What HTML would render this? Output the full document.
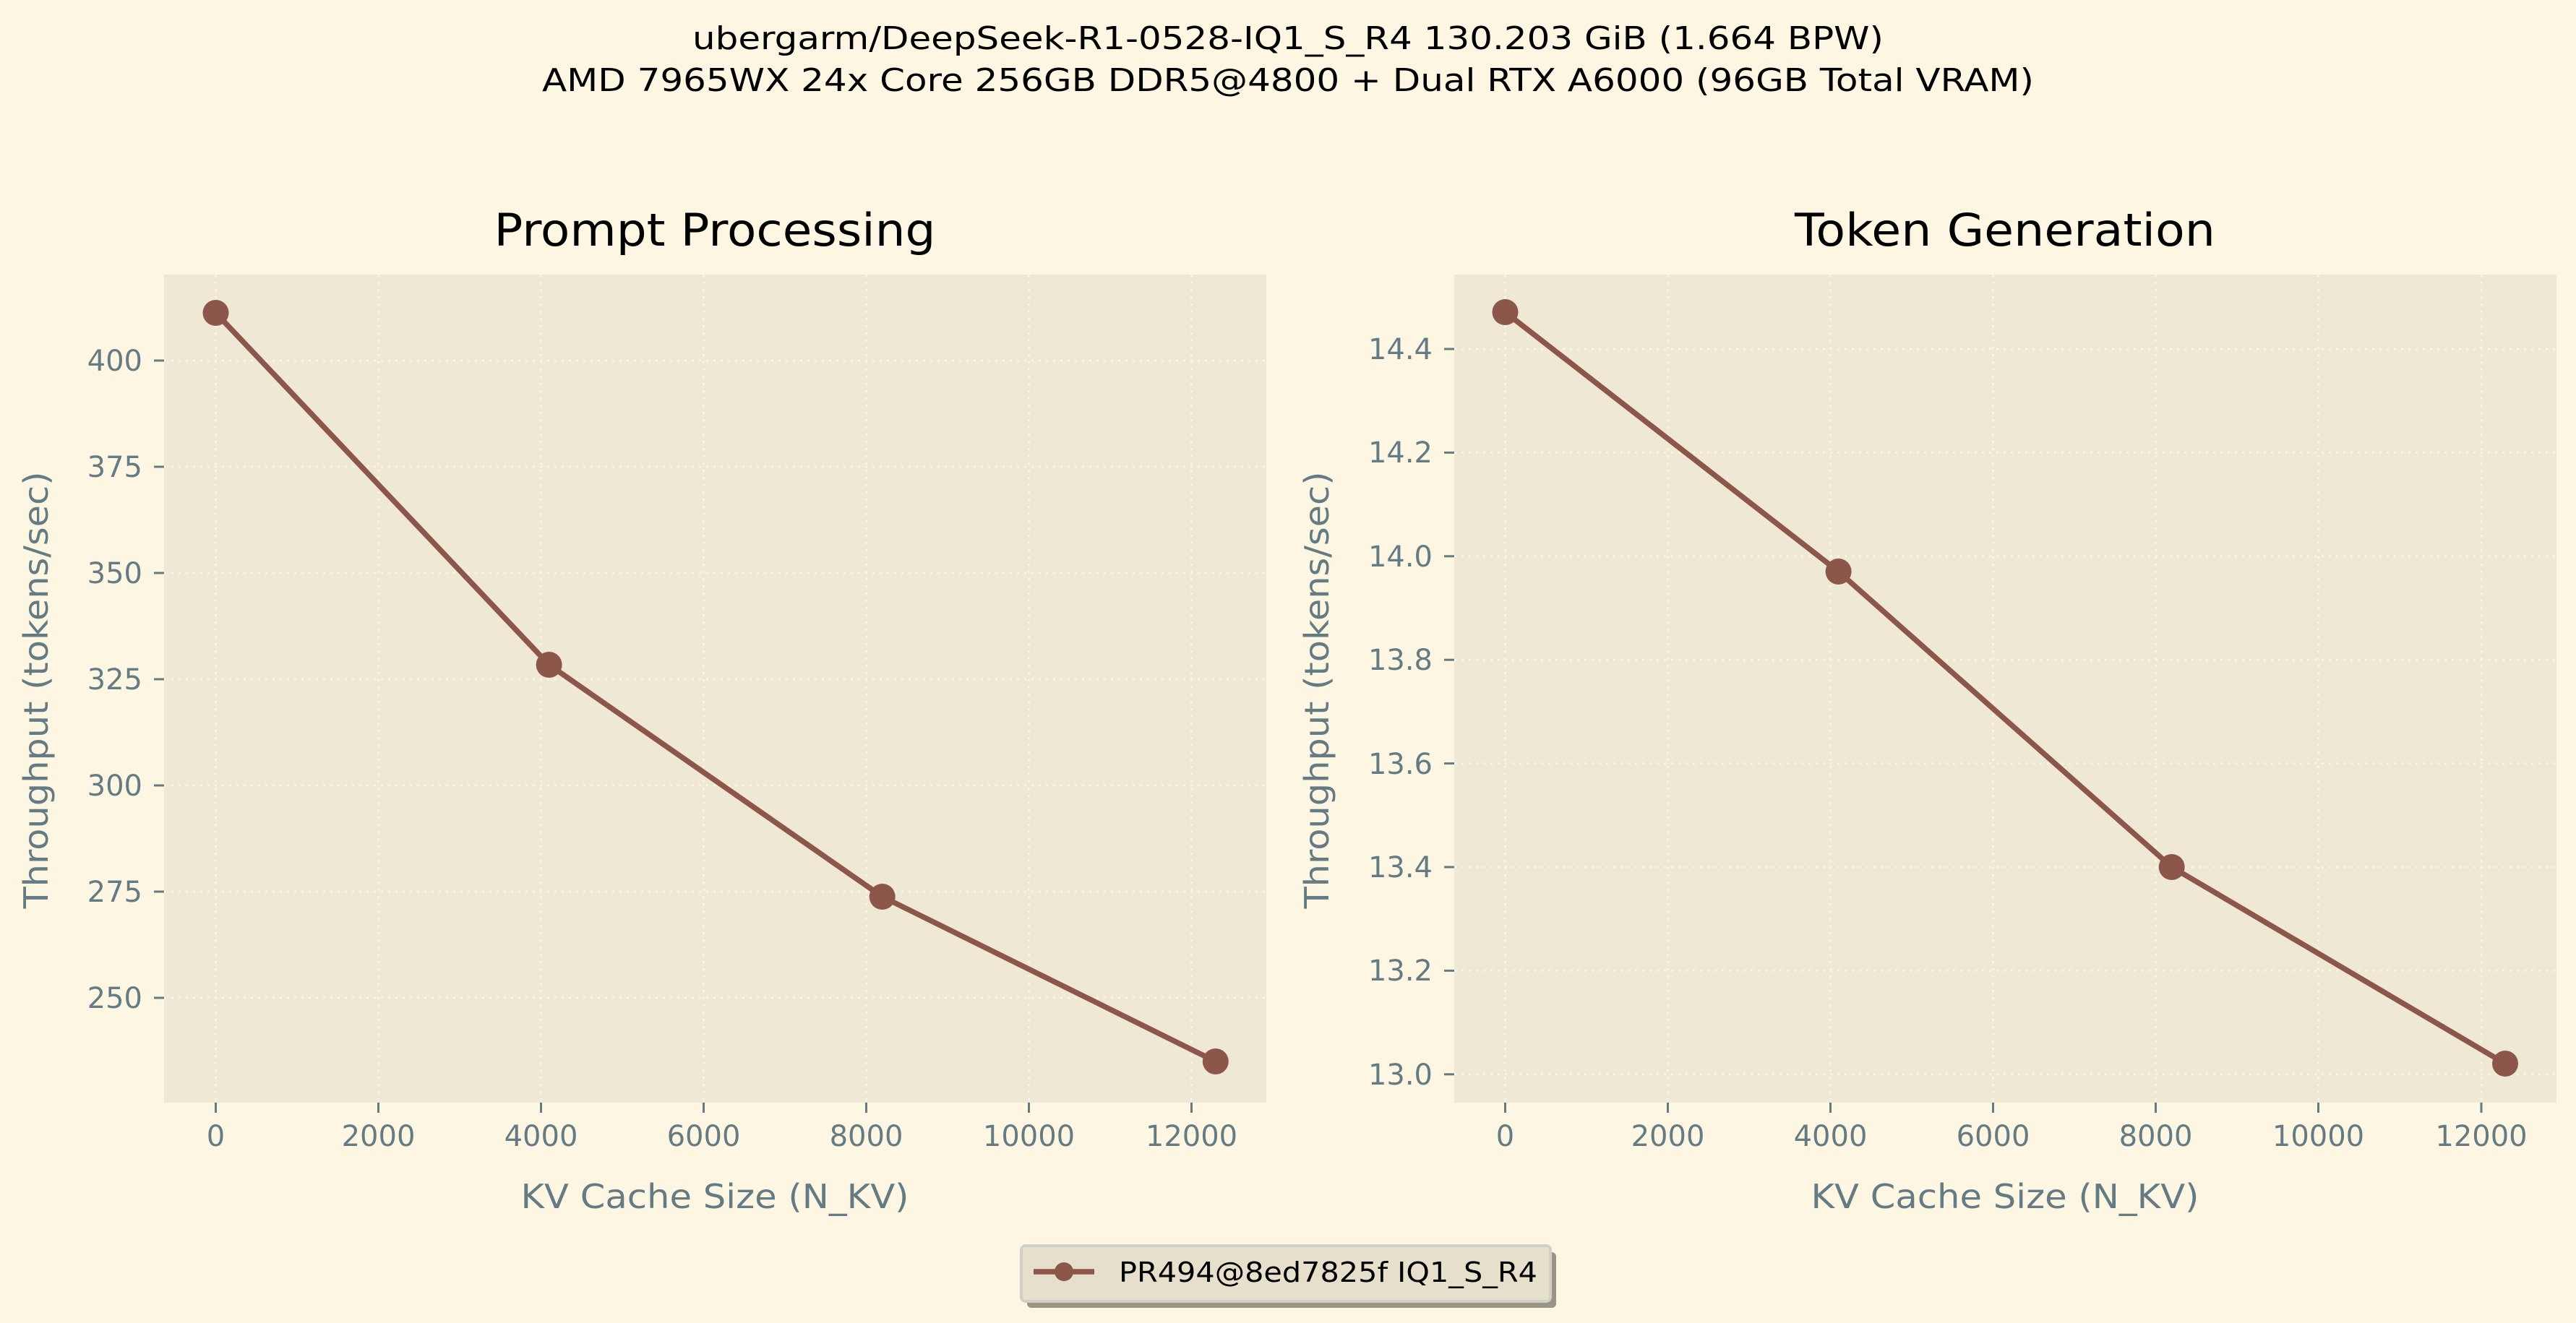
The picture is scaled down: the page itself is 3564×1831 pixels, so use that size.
<!DOCTYPE html>
<html><head><meta charset="utf-8"><style>
html,body{margin:0;padding:0;background:#fdf6e3;}
svg{display:block;}
text{font-family:"DejaVu Sans","Liberation Sans",sans-serif;}
</style></head><body>
<svg width="3564" height="1831" viewBox="0 0 3564 1831" xmlns="http://www.w3.org/2000/svg">
<rect width="3564" height="1831" fill="#fdf6e3"/>
<text x="1782" y="68" font-size="44" text-anchor="middle" fill="#000" textLength="1648" lengthAdjust="spacingAndGlyphs">ubergarm/DeepSeek-R1-0528-IQ1_S_R4 130.203 GiB (1.664 BPW)</text>
<text x="1782" y="126" font-size="44" text-anchor="middle" fill="#000" textLength="2064" lengthAdjust="spacingAndGlyphs">AMD 7965WX 24x Core 256GB DDR5@4800 + Dual RTX A6000 (96GB Total VRAM)</text>

<!-- LEFT -->
<text x="989" y="340" font-size="62" text-anchor="middle" fill="#000" textLength="611" lengthAdjust="spacingAndGlyphs">Prompt Processing</text>
<rect x="227" y="380" width="1525" height="1146" fill="#eee8d5"/>
<g stroke="#fdf6e3" stroke-width="3" stroke-dasharray="3,7" opacity="0.9">
<line x1="298.5" y1="380" x2="298.5" y2="1526"/><line x1="523.5" y1="380" x2="523.5" y2="1526"/><line x1="748.5" y1="380" x2="748.5" y2="1526"/><line x1="973.5" y1="380" x2="973.5" y2="1526"/><line x1="1198.5" y1="380" x2="1198.5" y2="1526"/><line x1="1423.5" y1="380" x2="1423.5" y2="1526"/><line x1="1648.5" y1="380" x2="1648.5" y2="1526"/>
<line x1="227" y1="499" x2="1752" y2="499"/><line x1="227" y1="646" x2="1752" y2="646"/><line x1="227" y1="793" x2="1752" y2="793"/><line x1="227" y1="940" x2="1752" y2="940"/><line x1="227" y1="1087" x2="1752" y2="1087"/><line x1="227" y1="1234" x2="1752" y2="1234"/><line x1="227" y1="1381" x2="1752" y2="1381"/>
</g>
<g stroke="#657b83" stroke-width="3">
<line x1="298.5" y1="1526" x2="298.5" y2="1540"/><line x1="523.5" y1="1526" x2="523.5" y2="1540"/><line x1="748.5" y1="1526" x2="748.5" y2="1540"/><line x1="973.5" y1="1526" x2="973.5" y2="1540"/><line x1="1198.5" y1="1526" x2="1198.5" y2="1540"/><line x1="1423.5" y1="1526" x2="1423.5" y2="1540"/><line x1="1648.5" y1="1526" x2="1648.5" y2="1540"/>
<line x1="213" y1="499" x2="227" y2="499"/><line x1="213" y1="646" x2="227" y2="646"/><line x1="213" y1="793" x2="227" y2="793"/><line x1="213" y1="940" x2="227" y2="940"/><line x1="213" y1="1087" x2="227" y2="1087"/><line x1="213" y1="1234" x2="227" y2="1234"/><line x1="213" y1="1381" x2="227" y2="1381"/>
</g>
<g font-size="40" fill="#657b83" text-anchor="middle">
<text x="298.5" y="1586">0</text><text x="523.5" y="1586">2000</text><text x="748.5" y="1586">4000</text><text x="973.5" y="1586">6000</text><text x="1198.5" y="1586">8000</text><text x="1423.5" y="1586">10000</text><text x="1648.5" y="1586">12000</text>
</g>
<g font-size="40" fill="#657b83" text-anchor="end">
<text x="197" y="513">400</text><text x="197" y="660">375</text><text x="197" y="807">350</text><text x="197" y="954">325</text><text x="197" y="1101">300</text><text x="197" y="1248">275</text><text x="197" y="1395">250</text>
</g>
<text x="989" y="1672" font-size="46" fill="#657b83" text-anchor="middle" textLength="537" lengthAdjust="spacingAndGlyphs">KV Cache Size (N_KV)</text>
<text transform="translate(66,955) rotate(-90)" font-size="46" fill="#657b83" text-anchor="middle" textLength="605" lengthAdjust="spacingAndGlyphs">Throughput (tokens/sec)</text>
<polyline points="298.5,433 759.6,920 1220.7,1241 1681.8,1469" fill="none" stroke="#8c564b" stroke-width="7.5" stroke-linejoin="round"/>
<g fill="#8c564b"><circle cx="298.5" cy="433" r="18"/><circle cx="759.6" cy="920" r="18"/><circle cx="1220.7" cy="1241" r="18"/><circle cx="1681.8" cy="1469" r="18"/></g>

<!-- RIGHT -->
<text x="2774" y="340" font-size="62" text-anchor="middle" fill="#000" textLength="582" lengthAdjust="spacingAndGlyphs">Token Generation</text>
<rect x="2012" y="380" width="1525" height="1146" fill="#eee8d5"/>
<g stroke="#fdf6e3" stroke-width="3" stroke-dasharray="3,7" opacity="0.9">
<line x1="2082.5" y1="380" x2="2082.5" y2="1526"/><line x1="2307.5" y1="380" x2="2307.5" y2="1526"/><line x1="2532.5" y1="380" x2="2532.5" y2="1526"/><line x1="2757.5" y1="380" x2="2757.5" y2="1526"/><line x1="2982.5" y1="380" x2="2982.5" y2="1526"/><line x1="3207.5" y1="380" x2="3207.5" y2="1526"/><line x1="3433" y1="380" x2="3433" y2="1526"/>
<line x1="2012" y1="483" x2="3537" y2="483"/><line x1="2012" y1="626.4" x2="3537" y2="626.4"/><line x1="2012" y1="769.8" x2="3537" y2="769.8"/><line x1="2012" y1="913.2" x2="3537" y2="913.2"/><line x1="2012" y1="1056.6" x2="3537" y2="1056.6"/><line x1="2012" y1="1200" x2="3537" y2="1200"/><line x1="2012" y1="1343.4" x2="3537" y2="1343.4"/><line x1="2012" y1="1486.8" x2="3537" y2="1486.8"/>
</g>
<g stroke="#657b83" stroke-width="3">
<line x1="2082.5" y1="1526" x2="2082.5" y2="1540"/><line x1="2307.5" y1="1526" x2="2307.5" y2="1540"/><line x1="2532.5" y1="1526" x2="2532.5" y2="1540"/><line x1="2757.5" y1="1526" x2="2757.5" y2="1540"/><line x1="2982.5" y1="1526" x2="2982.5" y2="1540"/><line x1="3207.5" y1="1526" x2="3207.5" y2="1540"/><line x1="3433" y1="1526" x2="3433" y2="1540"/>
<line x1="1998" y1="483" x2="2012" y2="483"/><line x1="1998" y1="626.4" x2="2012" y2="626.4"/><line x1="1998" y1="769.8" x2="2012" y2="769.8"/><line x1="1998" y1="913.2" x2="2012" y2="913.2"/><line x1="1998" y1="1056.6" x2="2012" y2="1056.6"/><line x1="1998" y1="1200" x2="2012" y2="1200"/><line x1="1998" y1="1343.4" x2="2012" y2="1343.4"/><line x1="1998" y1="1486.8" x2="2012" y2="1486.8"/>
</g>
<g font-size="40" fill="#657b83" text-anchor="middle">
<text x="2082.5" y="1586">0</text><text x="2307.5" y="1586">2000</text><text x="2532.5" y="1586">4000</text><text x="2757.5" y="1586">6000</text><text x="2982.5" y="1586">8000</text><text x="3207.5" y="1586">10000</text><text x="3433" y="1586">12000</text>
</g>
<g font-size="40" fill="#657b83" text-anchor="end">
<text x="1982" y="497">14.4</text><text x="1982" y="640">14.2</text><text x="1982" y="784">14.0</text><text x="1982" y="927">13.8</text><text x="1982" y="1071">13.6</text><text x="1982" y="1214">13.4</text><text x="1982" y="1357">13.2</text><text x="1982" y="1501">13.0</text>
</g>
<text x="2774" y="1672" font-size="46" fill="#657b83" text-anchor="middle" textLength="537" lengthAdjust="spacingAndGlyphs">KV Cache Size (N_KV)</text>
<text transform="translate(1838,955) rotate(-90)" font-size="46" fill="#657b83" text-anchor="middle" textLength="605" lengthAdjust="spacingAndGlyphs">Throughput (tokens/sec)</text>
<polyline points="2082.5,432 2543.6,791 3004.7,1200 3466,1472" fill="none" stroke="#8c564b" stroke-width="7.5" stroke-linejoin="round"/>
<g fill="#8c564b"><circle cx="2082.5" cy="432" r="18"/><circle cx="2543.6" cy="791" r="18"/><circle cx="3004.7" cy="1200" r="18"/><circle cx="3466" cy="1472" r="18"/></g>

<!-- LEGEND -->
<rect x="1421" y="1733" width="732" height="77" rx="6" fill="#9a9485"/>
<rect x="1413" y="1724" width="732" height="77" rx="6" fill="#e6dfcc" stroke="#cfcfcc" stroke-width="4"/>
<line x1="1430" y1="1760" x2="1514" y2="1760" stroke="#8c564b" stroke-width="7.5"/>
<circle cx="1472" cy="1760" r="13" fill="#8c564b"/>
<text x="1548" y="1774" font-size="38" fill="#000" textLength="579" lengthAdjust="spacingAndGlyphs">PR494@8ed7825f IQ1_S_R4</text>
</svg>
</body></html>
